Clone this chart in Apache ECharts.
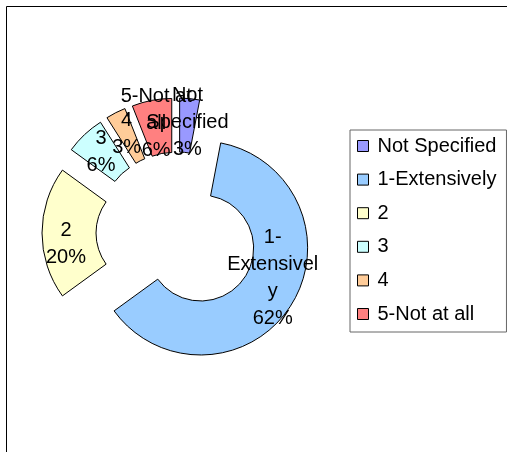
<!DOCTYPE html>
<html>
<head>
<meta charset="utf-8">
<script src="https://cdn.jsdelivr.net/npm/echarts@6/dist/echarts.min.js"></script>
<style>
  html, body { margin: 0; padding: 0; background: #fff; }
  #chart { width: 507px; height: 452px; }
</style>
</head>
<body>
<div id="chart"></div>
<script>
// slices, clockwise from 12 o'clock
const categories = ['Not Specified', '1-Extensively', '2', '3', '4', '5-Not at all']
const values = [3, 62, 20, 6, 3, 6]
// how the labels wrap inside the slices
const labelNames = ['Not\nSpecified', '1-\nExtensivel\ny', '2', '3', '4', '5-Not at\nall']
const colors = ['#9999FF', '#99CCFF', '#FFFFCC', '#CCFFFF', '#FFCC99', '#FF8080']

// small nudges so the inside labels sit where the original put them
const labelNudge = { 1: [2, -14], 2: [0, 11] }

const chart = echarts.init(document.getElementById('chart'))

const option = {
    animation: false,
    graphic: [
        {
            type: 'rect',
            shape: { x: 6.5, y: 6.5, width: 560, height: 500 },
            style: { fill: 'none', stroke: '#000', lineWidth: 1 },
            silent: true
        }
    ],
    legend: {
        orient: 'vertical',
        left: 350,
        top: 130,
        padding: [6, 10, 8, 7],
        itemWidth: 11,
        itemHeight: 11,
        itemGap: 13.6,
        icon: 'rect',
        borderColor: '#666',
        borderWidth: 1,
        itemStyle: { borderColor: '#000', borderWidth: 1 },
        textStyle: {
            fontFamily: 'Liberation Sans',
            fontSize: 20,
            lineHeight: 20,
            color: '#000',
            padding: [0, 0, 0, 4]
        },
        selectedMode: false,
        data: categories
    },
    series: [
        {
            type: 'pie',
            center: [177, 233],
            radius: [53, 107],
            startAngle: 90,
            clockwise: true,
            selectedMode: 'multiple',
            selectedOffset: 28,
            avoidLabelOverlap: false,
            minShowLabelAngle: 0,
            silent: true,
            itemStyle: { borderColor: '#000', borderWidth: 1 },
            select: { itemStyle: { borderColor: '#000', borderWidth: 1 } },
            label: {
                position: 'inside',
                fontFamily: 'Liberation Sans',
                fontSize: 20,
                lineHeight: 27,
                color: '#000',
                formatter: p => labelNames[p.dataIndex] + '\n' + Math.round(p.percent) + '%'
            },
            labelLayout: p => {
                const n = labelNudge[p.dataIndex] || [0, 0]
                return { hideOverlap: false, dx: n[0], dy: n[1] }
            },
            labelLine: { show: false },
            data: categories.map((name, i) => ({
                name,
                value: values[i],
                selected: true,
                itemStyle: { color: colors[i] }
            }))
        }
    ]
}

chart.setOption(option)
</script>
</body>
</html>
